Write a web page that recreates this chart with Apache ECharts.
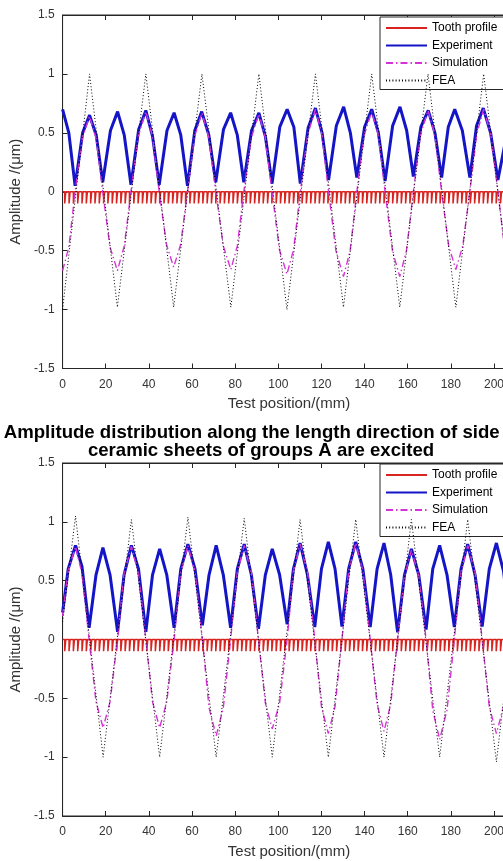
<!DOCTYPE html>
<html><head><meta charset="utf-8">
<script src="https://cdn.jsdelivr.net/npm/echarts@6/dist/echarts.min.js"></script>
<style>html,body{margin:0;padding:0;overflow:hidden;background:#fff}#c{width:522px;height:861px}</style>
</head><body><div id="c"></div>
<script>
// ---- text ----
const seriesNames = ['Tooth profile', 'Experiment', 'Simulation', 'FEA'];
const titleLines = ['Amplitude distribution along the length direction of side A', 'ceramic sheets of groups A are excited'];
const xName = 'Test position/(mm)';
const yName = 'Amplitude /(\u03bcm)';

// ---- tooth profile (slot positions, mm) ----
const toothSlots = [1,3,5,7,9,11,13,15,17,19,21,23,25,27,29,31,33,35,37,39,41,43,45,47,49,51,53,55,57,59,61,63,65,67,69,71,73,75,77,79,81,83,85,87,89,91,93,95,97,99,101,103,105,107,109,111,113,115,117,119,121,123,125,127,129,131,133,135,137,139,141,143,145,147,149,151,153,155,157,159,161,163,165,167,169,171,173,175,177,179,181,183,185,187,189,191,193,195,197,199,201,203,205,207,209];
const toothDepth = -0.1;
const toothSlotWidth = 0.5;

// ---- panel 1 ----
const exp1 = [[0,0.70],[2.9,0.50],[5.8,0.05],[9.3,0.50],[12.5,0.65],[15.6,0.48],[18.6,0.08],[22.2,0.52],[25.5,0.68],[28.6,0.48],[31.7,0.06],[35.3,0.53],[38.6,0.69],[41.7,0.47],[44.8,0.06],[48.4,0.52],[51.7,0.67],[54.8,0.48],[57.9,0.05],[61.3,0.52],[64.5,0.68],[67.8,0.48],[71.0,0.08],[74.6,0.53],[77.9,0.67],[81.0,0.48],[84.0,0.08],[87.6,0.52],[91.0,0.67],[94.0,0.47],[97.1,0.07],[100.7,0.55],[104.1,0.70],[107.2,0.55],[110.2,0.07],[113.8,0.54],[117.2,0.71],[120.3,0.50],[123.3,0.10],[126.9,0.56],[130.3,0.72],[133.4,0.50],[136.4,0.12],[140.0,0.55],[143.3,0.70],[146.4,0.50],[149.5,0.09],[153.0,0.56],[156.4,0.72],[159.5,0.52],[162.6,0.13],[166.1,0.55],[169.5,0.69],[172.6,0.50],[175.7,0.12],[178.8,0.55],[181.8,0.70],[185.3,0.52],[188.8,0.12],[191.9,0.56],[195.0,0.71],[198.4,0.50],[201.8,0.10],[205.5,0.45],[208.4,0.68],[210,0.62]];
const sim1 = [[0,-0.67],[2.9,-0.47],[5.8,0],[9.2,0.46],[12.5,0.64],[15.6,0.45],[18.6,0],[22.0,-0.47],[25.4,-0.67],[28.6,-0.46],[31.7,0],[35.2,0.48],[38.6,0.68],[41.7,0.47],[44.8,0],[48.2,-0.45],[51.5,-0.64],[54.7,-0.45],[57.9,0],[61.2,0.47],[64.6,0.67],[67.8,0.46],[71.0,0],[74.5,-0.46],[78.0,-0.66],[81.0,-0.46],[84.0,0],[87.5,0.46],[91.0,0.66],[94.0,0.46],[97.1,0],[100.5,-0.49],[104.0,-0.70],[107.1,-0.49],[110.2,0],[113.7,0.49],[117.2,0.70],[120.2,0.49],[123.3,0],[126.7,-0.50],[130.2,-0.72],[133.3,-0.50],[136.4,0],[139.8,0.48],[143.3,0.68],[146.4,0.48],[149.5,0],[152.9,-0.50],[156.3,-0.72],[159.4,-0.50],[162.6,0],[166.0,0.49],[169.4,0.69],[172.5,0.49],[175.7,0],[179.0,-0.46],[182.3,-0.66],[185.5,-0.46],[188.8,0],[192.0,0.49],[195.2,0.70],[198.5,0.49],[201.8,0],[205.0,-0.49],[208.4,-0.70],[210,-0.62]];
const fea1 = [[0,-1.0],[12.5,1.0],[25.4,-0.98],[38.6,1.0],[51.5,-0.98],[64.6,1.0],[78.0,-0.98],[91.0,1.0],[104.0,-1.0],[117.2,1.0],[130.2,-0.98],[143.3,1.0],[156.3,-0.98],[169.4,1.0],[182.3,-0.98],[195.2,1.0],[208.4,-1.0],[210,-0.88]];

// ---- panel 2 ----
const exp2 = [[0,0.23],[2.6,0.60],[6.0,0.80],[9.0,0.62],[12.3,0.10],[15.5,0.55],[18.7,0.78],[22.0,0.55],[25.5,0.065],[28.5,0.55],[31.9,0.80],[35.2,0.60],[38.6,0.065],[41.7,0.55],[45.0,0.77],[48.3,0.55],[51.7,0.10],[54.8,0.60],[58.1,0.81],[61.4,0.60],[64.8,0.12],[67.9,0.55],[71.2,0.80],[74.5,0.55],[77.9,0.10],[81.0,0.60],[84.2,0.81],[87.5,0.55],[90.8,0.09],[94.0,0.55],[97.2,0.77],[100.6,0.55],[104.1,0.13],[107.0,0.60],[110.1,0.82],[113.5,0.55],[116.9,0.105],[120.0,0.60],[123.2,0.83],[126.3,0.60],[129.5,0.11],[132.6,0.60],[135.9,0.83],[139.2,0.60],[142.6,0.105],[145.8,0.60],[149.0,0.82],[152.1,0.55],[155.3,0.06],[158.5,0.55],[161.7,0.77],[165.1,0.55],[168.5,0.085],[171.6,0.60],[174.8,0.80],[178.2,0.55],[181.6,0.105],[184.7,0.60],[187.8,0.81],[191.2,0.55],[194.5,0.11],[197.8,0.60],[201.1,0.82],[204.4,0.58],[207.7,0.10],[210,0.40]];
const sim2 = [[0,0.20],[2.6,0.58],[6.0,0.79],[9.0,0.56],[12.3,0],[15.5,-0.53],[18.8,-0.75],[22.0,-0.53],[25.5,0],[28.5,0.56],[31.9,0.79],[35.2,0.56],[38.6,0],[41.7,-0.53],[45.0,-0.75],[48.3,-0.53],[51.7,0],[54.8,0.57],[58.1,0.80],[61.4,0.57],[64.8,0],[67.9,-0.58],[71.2,-0.82],[74.5,-0.58],[77.9,0],[81.0,0.57],[84.2,0.80],[87.5,0.57],[90.8,0],[94.0,-0.54],[97.2,-0.76],[100.6,-0.54],[104.1,0],[107.0,0.58],[110.1,0.81],[113.5,0.58],[116.9,0],[120.0,-0.57],[123.2,-0.80],[126.3,-0.57],[129.5,0],[132.6,0.58],[135.9,0.82],[139.2,0.58],[142.6,0],[145.8,-0.55],[149.0,-0.78],[152.1,-0.55],[155.3,0],[158.5,0.54],[161.7,0.76],[165.1,0.54],[168.5,0],[171.6,-0.60],[174.8,-0.85],[178.2,-0.60],[181.6,0],[184.7,0.57],[187.8,0.80],[191.2,0.57],[194.5,0],[197.8,-0.57],[201.1,-0.80],[204.4,-0.57],[207.7,0],[210,0.38]];
const fea2 = [[0,0.15],[6.0,1.05],[18.8,-1.0],[31.9,1.02],[45.0,-1.0],[58.1,1.04],[71.2,-1.0],[84.2,1.03],[97.2,-1.0],[110.1,1.02],[123.2,-1.0],[135.9,1.02],[149.0,-1.0],[161.7,1.02],[174.8,-1.0],[187.8,1.02],[201.1,-1.04],[210,0.36]];

// ---- axis ranges ----
const xMin = 0, xMax = 210, xStep = 20;
const yMin = -1.5, yMax = 1.5, yStep = 0.5;

function toothLine() {
  const d = [[xMin, 0]];
  toothSlots.forEach(p => {
    d.push([p, 0], [p, toothDepth], [p + toothSlotWidth, toothDepth], [p + toothSlotWidth, 0]);
  });
  d.push([xMax, 0]);
  return d;
}

const FONT = 'Liberation Sans, Arial, Helvetica, sans-serif';
const AX = '#262626';
const TXT = '#333333';
const panels = [
  {top: 15, height: 353.5, exp: exp1, sim: sim1, fea: fea1, legendTop: 17},
  {top: 463, height: 353, exp: exp2, sim: sim2, fea: fea2, legendTop: 464}
];
const gridLeft = 61, gridWidth = 454.6;

const option = {
  animation: false,
  backgroundColor: '#fff',
  title: {
    text: titleLines.join('\n'),
    left: 'center', top: 419,
    textStyle: {fontFamily: FONT, fontSize: 18.6, fontWeight: 'bold', color: '#000', lineHeight: 18}
  },
  grid: [], xAxis: [], yAxis: [], series: [], legend: []
};

panels.forEach((p, i) => {
  option.grid.push({left: gridLeft, top: p.top, width: gridWidth, height: p.height,
    show: true, borderColor: AX, borderWidth: 1, backgroundColor: 'transparent'});
  option.xAxis.push({
    type: 'value', gridIndex: i, min: xMin, max: xMax, interval: xStep,
    name: xName, nameLocation: 'middle', nameGap: 28,
    nameTextStyle: {fontFamily: FONT, fontSize: 15, color: TXT},
    axisLine: {show: true, onZero: false, lineStyle: {color: AX, width: 1}},
    axisTick: {show: true, inside: true, length: 5, lineStyle: {color: AX}},
    axisLabel: {fontFamily: FONT, fontSize: 12, color: TXT, margin: 10, showMaxLabel: false},
    splitLine: {show: false}
  });
  option.xAxis.push({
    type: 'value', gridIndex: i, position: 'top', min: xMin, max: xMax, interval: xStep,
    axisLine: {show: true, onZero: false, lineStyle: {color: AX, width: 1}},
    axisTick: {show: true, inside: true, length: 5, lineStyle: {color: AX}},
    axisLabel: {show: false}, splitLine: {show: false}
  });
  option.yAxis.push({
    type: 'value', gridIndex: i, min: yMin, max: yMax, interval: yStep,
    name: yName, nameLocation: 'middle', nameGap: 31, nameRotate: 90,
    nameTextStyle: {fontFamily: FONT, fontSize: 15, color: TXT},
    axisLine: {show: true, onZero: false, lineStyle: {color: AX, width: 1}},
    axisTick: {show: true, inside: true, length: 5, lineStyle: {color: AX}},
    axisLabel: {fontFamily: FONT, fontSize: 12, color: TXT, margin: 8},
    splitLine: {show: false}
  });
  const xi = i * 2;
  option.series.push(
    {name: seriesNames[0], type: 'line', xAxisIndex: xi, yAxisIndex: i, data: toothLine(),
     symbol: 'none', lineStyle: {color: '#d8231f', width: 1.5}, itemStyle: {color: '#d8231f'}, z: 2},
    {name: seriesNames[1], type: 'line', xAxisIndex: xi, yAxisIndex: i, data: p.exp,
     symbol: 'none', lineStyle: {color: '#1515c8', width: 3}, itemStyle: {color: '#1515c8'}, z: 3},
    {name: seriesNames[2], type: 'line', xAxisIndex: xi, yAxisIndex: i, data: p.sim,
     symbol: 'none', lineStyle: {color: '#d633d6', width: 1.4, type: [7, 3, 1.5, 3]}, itemStyle: {color: '#d633d6'}, z: 4},
    {name: seriesNames[3], type: 'line', xAxisIndex: xi, yAxisIndex: i, data: p.fea,
     symbol: 'none', lineStyle: {color: '#000', width: 1, type: [1, 2.2]}, itemStyle: {color: '#000'}, z: 5}
  );
  option.legend.push({
    data: seriesNames, orient: 'vertical', left: 380, top: p.legendTop,
    itemWidth: 41, itemHeight: 12, itemGap: 5.5,
    padding: [5, 30, 3, 5], backgroundColor: '#fff', borderColor: AX, borderWidth: 1, borderRadius: 0,
    itemStyle: {opacity: 0, borderWidth: 0},
    textStyle: {fontFamily: FONT, fontSize: 12, color: '#000'},
    selectedMode: false
  });
});

const chart = echarts.init(document.getElementById('c'), null, {renderer: 'canvas'});
chart.setOption(option);
</script></body></html>
